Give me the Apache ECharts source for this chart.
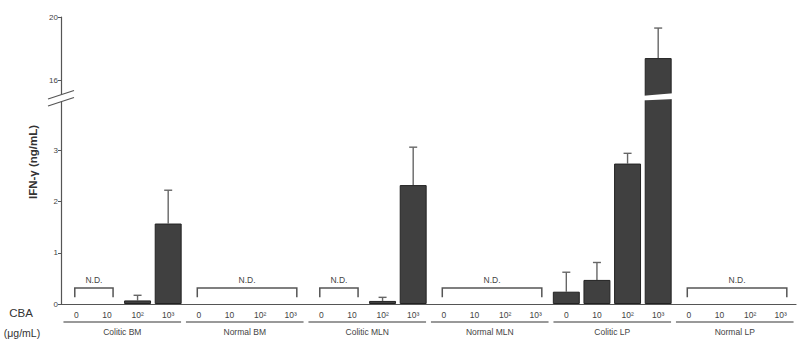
<!DOCTYPE html>
<html><head><meta charset="utf-8">
<script src="https://cdn.jsdelivr.net/npm/echarts@6/dist/echarts.min.js"></script>
<style>html,body{margin:0;padding:0;background:#fff}#c{width:797px;height:343px}</style>
</head><body><div id="c"></div>
<script>
// ---- data ----
const groups = ['Colitic BM','Normal BM','Colitic MLN','Normal MLN','Colitic LP','Normal LP'];
const doses = ['0','10','10²','10³'];
const means   = [null,null,0.07,1.57,  null,null,null,null,  null,null,0.06,2.32,  null,null,null,null,  0.24,0.47,2.74,17.4,  null,null,null,null];
const errTops = [null,null,0.17,2.22,  null,null,null,null,  null,null,0.13,3.06,  null,null,null,null,  0.62,0.81,2.94,19.3,  null,null,null,null];
const ndSpans = [[0,1],[4,7],[8,9],[12,15],[20,23]];
const lowTicks = [0,1,2,3];
const highTicks = [16,20];
const yTitle = 'IFN-γ (ng/mL)';

// ---- build ----
const categories = [];
groups.forEach(g => doses.forEach(d => categories.push(g + '|' + d)));
const barData = means.map(v => v == null ? '-' : v);
const errData = [];
means.forEach((m, i) => { if (m != null) errData.push([i, errTops[i], m]); });
const groupData = groups.map((g, i) => [i * 4, i * 4 + 3, g]);

const FONT = 'Liberation Sans, Arial, Helvetica, sans-serif';
const AX = '#555';

function errItem(params, api) {
  const x = api.value(0), top = api.value(1), m = api.value(2);
  const p1 = api.coord([x, m]), p2 = api.coord([x, top]);
  const st = { stroke: '#666', lineWidth: 1.4 };
  return { type: 'group', children: [
    { type: 'line', shape: { x1: p1[0], y1: p1[1], x2: p2[0], y2: p2[1] }, style: st },
    { type: 'line', shape: { x1: p2[0] - 4, y1: p2[1], x2: p2[0] + 4, y2: p2[1] }, style: st }
  ]};
}
function ndItem(params, api) {
  const a = api.value(0), b = api.value(1);
  const w = api.size([1, 0])[0];
  const pa = api.coord([a, 0.31]), pb = api.coord([b, 0.31]);
  const yb = api.coord([a, 0.13])[1];
  const l = pa[0] - 0.05 * w, r = pb[0] + 0.2 * w, t = pa[1];
  return { type: 'group', children: [
    { type: 'polyline', shape: { points: [[l, yb], [l, t], [r, t], [r, yb]] }, style: { stroke: '#555', lineWidth: 1.5, fill: null } },
    { type: 'text', x: (l + r) / 2, y: t - 4, style: { text: 'N.D.', fontSize: 8.5, fontFamily: FONT, fill: '#444', align: 'center', verticalAlign: 'bottom' } }
  ]};
}
function groupItem(params, api) {
  const a = api.value(0), b = api.value(1);
  const w = api.size([1, 0])[0];
  const pa = api.coord([a, 0]), pb = api.coord([b, 0]);
  const l = pa[0] - 0.42 * w, r = pb[0] + 0.42 * w, y = pa[1] + 18;
  return { type: 'group', children: [
    { type: 'line', shape: { x1: l, y1: y, x2: r, y2: y }, style: { stroke: '#777', lineWidth: 1.5 } },
    { type: 'text', x: (l + r) / 2, y: y + 5, style: { text: groups[params.dataIndex], fontSize: 8.5, fontFamily: FONT, fill: '#444', align: 'center', verticalAlign: 'top' } }
  ]};
}

const yCommon = {
  type: 'value',
  axisLine: { show: true, lineStyle: { color: AX, width: 1.2 } },
  splitLine: { show: false },
  axisLabel: { fontSize: 8, fontFamily: FONT, color: '#444', margin: 3 },
  axisTick: { show: true, length: 3, lineStyle: { color: AX } }
};

const chart = echarts.init(document.getElementById('c'), null, { renderer: 'svg' });
chart.setOption({
  animation: false,
  backgroundColor: '#fff',
  grid: [
    { left: 61, right: 1, top: 99, height: 205 },
    { left: 61, right: 1, top: 17, height: 79 }
  ],
  xAxis: [
    { type: 'category', gridIndex: 0, data: categories,
      axisLine: { lineStyle: { color: AX, width: 1.2 } }, axisTick: { show: false },
      axisLabel: { formatter: v => v.split('|')[1], fontSize: 8.5, fontFamily: FONT, color: '#444', margin: 6 } },
    { type: 'category', gridIndex: 1, data: categories, show: false }
  ],
  yAxis: [
    Object.assign({}, yCommon, { gridIndex: 0, min: 0, max: 4,
      axisLabel: Object.assign({}, yCommon.axisLabel, { customValues: lowTicks }),
      axisTick: Object.assign({}, yCommon.axisTick, { customValues: lowTicks }) }),
    Object.assign({}, yCommon, { gridIndex: 1, min: 15, max: 20,
      axisLabel: Object.assign({}, yCommon.axisLabel, { customValues: highTicks }),
      axisTick: Object.assign({}, yCommon.axisTick, { customValues: highTicks }) })
  ],
  series: [
    { type: 'bar', xAxisIndex: 0, yAxisIndex: 0, data: barData, barWidth: '88%', clip: true,
      itemStyle: { color: '#404040', borderColor: '#222', borderWidth: 1 } },
    { type: 'bar', xAxisIndex: 1, yAxisIndex: 1, data: barData, barWidth: '88%', clip: true,
      itemStyle: { color: '#404040', borderColor: '#222', borderWidth: 1 } },
    { type: 'custom', xAxisIndex: 0, yAxisIndex: 0, data: errData, renderItem: errItem, clip: true, z: 1 },
    { type: 'custom', xAxisIndex: 1, yAxisIndex: 1, data: errData, renderItem: errItem, clip: true, z: 1 },
    { type: 'custom', xAxisIndex: 0, yAxisIndex: 0, data: ndSpans, renderItem: ndItem, clip: false },
    { type: 'custom', xAxisIndex: 0, yAxisIndex: 0, data: groupData, renderItem: groupItem, clip: false }
  ]
});

// decorations: axis break marks, break in tall bar, titles
const tallIdx = means.indexOf(Math.max(...means.filter(v => v != null)));
const bx = chart.convertToPixel({ xAxisIndex: 0 }, categories[tallIdx]);
const ax = chart.convertToPixel({ xAxisIndex: 0 }, categories[0]) - 15.3;
const yLowTop = chart.convertToPixel({ yAxisIndex: 0 }, 4);
const yHighBot = chart.convertToPixel({ yAxisIndex: 1 }, 15);
const ym = (yLowTop + yHighBot) / 2;
chart.setOption({
  graphic: [
    { type: 'polygon', shape: { points: [[ax - 12, ym + 8], [ax - 12, ym + 1], [ax + 12, ym - 7], [ax + 12, ym]] }, style: { fill: '#fff' }, z: 50 },
    { type: 'line', shape: { x1: ax - 13, y1: ym + 1.5, x2: ax + 13, y2: ym - 7 }, style: { stroke: '#555', lineWidth: 1.2 }, z: 51 },
    { type: 'line', shape: { x1: ax - 13, y1: ym + 8.5, x2: ax + 13, y2: ym }, style: { stroke: '#555', lineWidth: 1.2 }, z: 51 },
    { type: 'polygon', shape: { points: [[bx - 18, ym + 3], [bx - 18, ym - 1.5], [bx + 18, ym - 4.5], [bx + 18, ym + 1.5]] }, style: { fill: '#fff' }, z: 50 },
    { type: 'text', x: 33, y: 162, rotation: Math.PI / 2, style: { text: yTitle, fontSize: 11.5, fontWeight: 'bold', fontFamily: FONT, fill: '#333', align: 'center', verticalAlign: 'middle' }, z: 60 },
    { type: 'text', x: 21, y: 313, style: { text: 'CBA', fontSize: 11.5, fontFamily: FONT, fill: '#333', align: 'center', verticalAlign: 'middle' }, z: 60 },
    { type: 'text', x: 22, y: 333, style: { text: '(μg/mL)', fontSize: 10.5, fontFamily: FONT, fill: '#333', align: 'center', verticalAlign: 'middle' }, z: 60 }
  ]
});
</script>
</body></html>
